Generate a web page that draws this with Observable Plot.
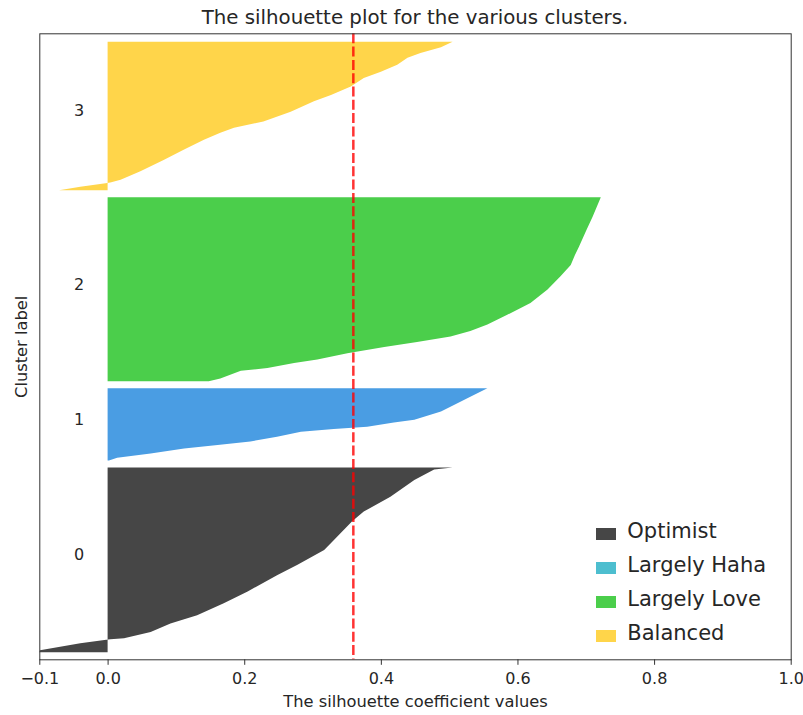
<!DOCTYPE html>
<html>
<head>
<meta charset="utf-8">
<script src="https://cdn.jsdelivr.net/npm/d3@7"></script>
<script src="https://cdn.jsdelivr.net/npm/@observablehq/plot@0.6"></script>
<style>
  html, body { margin: 0; padding: 0; background: #fff; }
  #wrap { position: relative; width: 803px; height: 715px; font-family: "DejaVu Sans", sans-serif; }
  #title { position: absolute; left: 39.3px; width: 751.4px; top: 7.5px; height: 19.8px; line-height: 19.8px;
           font-size: 19.8px; text-align: center; color: #262626; white-space: nowrap; }
  #legend { position: absolute; left: 596px; top: 516.5px; }
  .row { display: flex; align-items: center; height: 34px; }
  .sw { width: 20px; height: 12px; margin-right: 11.3px; }
  .lb { font-size: 21px; line-height: 21px; color: #262626; transform: translateY(-2px); white-space: nowrap; }
</style>
</head>
<body>
<div id="wrap">
  <div id="chart"></div>
  <div id="title"></div>
  <div id="legend"></div>
</div>
<script>
// ---- data ----
const titleText = "The silhouette plot for the various clusters.";
const xLabel = "The silhouette coefficient values";
const yLabel = "Cluster label";
const clusterLabels = ["0", "1", "2", "3"];
const clusterNames = ["Optimist", "Largely Haha", "Largely Love", "Balanced"];
const clusterSizes = [264, 103, 263, 212];
const fillColors = ["#464646", "#4a9de3", "#4bce4b", "#ffd54a"];
const legendColors = ["#464646", "#4dbecf", "#4bce4b", "#ffd54a"];
const avgScore = 0.359;
const xTicks = [-0.1, 0.0, 0.2, 0.4, 0.6, 0.8, 1.0];
const xDomain = [-0.1, 1.0];
const yMax = 894;
const labelX = -0.05;

// sorted silhouette profile per cluster: rank within the cluster -> value
const ranks0  = [0, 3, 13, 18, 18.5, 20, 29, 41, 53, 70, 87, 110, 125, 146, 160, 187, 201, 222, 246, 261, 264];
const values0 = [-0.100, -0.099, -0.040, -0.002, 0.004, 0.024, 0.063, 0.092, 0.131, 0.170, 0.205, 0.248, 0.278, 0.317, 0.331, 0.358, 0.375, 0.414, 0.449, 0.478, 0.505];
const ranks1  = [0, 4, 10, 17, 22, 27, 34, 41, 45, 48, 54, 58, 70, 79, 91, 103];
const values1 = [0.002, 0.014, 0.063, 0.112, 0.161, 0.209, 0.248, 0.283, 0.331, 0.380, 0.419, 0.449, 0.488, 0.507, 0.531, 0.556];
const ranks2  = [0, 4, 15, 19, 26, 31, 40, 49, 56, 64, 72, 81, 95, 112, 131, 150, 166, 180, 192, 216, 235, 263];
const values2 = [0.148, 0.165, 0.195, 0.234, 0.273, 0.307, 0.351, 0.405, 0.453, 0.502, 0.531, 0.556, 0.585, 0.619, 0.644, 0.663, 0.678, 0.684, 0.690, 0.701, 0.710, 0.722];
const ranks3  = [0, 5, 10, 11, 15, 27, 43, 58, 72, 82, 89, 98, 112, 127, 136, 148, 160, 169, 179, 189, 196, 204, 212];
const values3 = [-0.071, -0.040, -0.003, 0.004, 0.019, 0.048, 0.082, 0.112, 0.141, 0.165, 0.185, 0.228, 0.268, 0.302, 0.327, 0.356, 0.375, 0.400, 0.424, 0.439, 0.458, 0.488, 0.505];

const profileRanks = [ranks0, ranks1, ranks2, ranks3];
const profileValues = [values0, values1, values2, values3];

// stack clusters like the matplotlib silhouette recipe (gap of 10 samples)
const lowers = [];
let yl = 10;
clusterSizes.forEach(s => { lowers.push(yl); yl += s + 10; });

const rowsFor = i => profileRanks[i].map((r, j) => ({cluster: i, y: lowers[i] + r, v: profileValues[i][j]}));

const font = "DejaVu Sans";
const chart = Plot.plot({
  width: 803,
  height: 715,
  marginLeft: 39.3,
  marginRight: 12.3,
  marginTop: 33.3,
  marginBottom: 55.7,
  style: {fontFamily: font, color: "#262626", background: "white"},
  x: {domain: xDomain},
  y: {domain: [0, yMax], axis: null},
  marks: [
    ...clusterLabels.map((c, i) => Plot.areaX(rowsFor(i), {y: "y", x1: 0, x2: "v", fill: fillColors[i]})),
    Plot.ruleX([avgScore], {stroke: "#ff0000", strokeOpacity: 0.8, strokeWidth: 2.5, strokeDasharray: "10,3.3"}),
    Plot.text(clusterLabels, {x: labelX, y: (d, i) => lowers[i] + clusterSizes[i] / 2, text: d => d,
      textAnchor: "start", lineAnchor: "bottom", fontSize: 16, fill: "#262626"}),
    Plot.frame({stroke: "#333", strokeWidth: 1}),
    Plot.axisX({ticks: xTicks, tickFormat: d3.format(".1f"), tickSize: 5.5, tickPadding: 7, fontSize: 16, label: null, stroke: "#333"}),
    Plot.text([xLabel], {frameAnchor: "bottom", dy: 47.5, lineAnchor: "bottom", fontSize: 16.3, fill: "#262626"}),
    Plot.text([yLabel], {frameAnchor: "left", rotate: -90, dx: -12.5, textAnchor: "middle", lineAnchor: "bottom", fontSize: 16.3, fill: "#262626"})
  ]
});
document.getElementById("chart").appendChild(chart);
document.getElementById("title").textContent = titleText;

const legend = document.getElementById("legend");
clusterNames.forEach((n, i) => {
  const row = document.createElement("div");
  row.className = "row";
  const sw = document.createElement("div");
  sw.className = "sw";
  sw.style.background = legendColors[i];
  const lb = document.createElement("span");
  lb.className = "lb";
  lb.textContent = n;
  row.appendChild(sw);
  row.appendChild(lb);
  legend.appendChild(row);
});
</script>
</body>
</html>
